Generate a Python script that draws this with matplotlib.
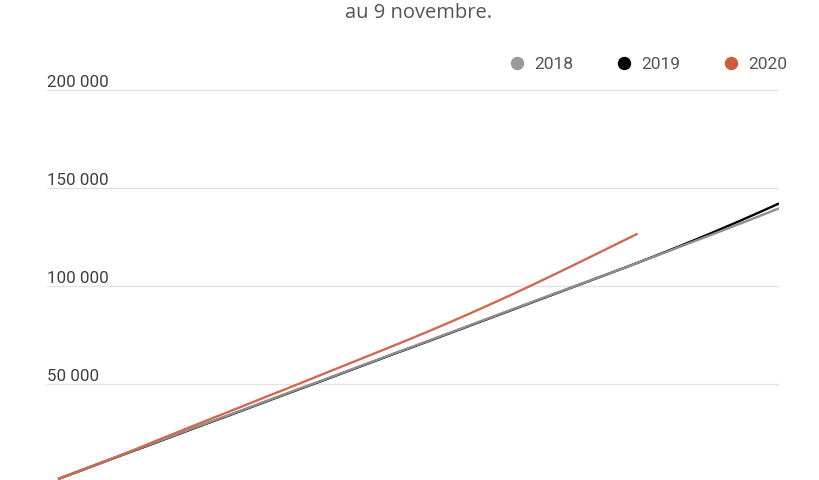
import matplotlib
matplotlib.use("Agg")
import matplotlib.pyplot as plt
from matplotlib.lines import Line2D
from matplotlib.transforms import blended_transform_factory

# ── data: cumulative totals per week ─────────────────────────────────────────

weeks = list(range(1, 53))

y2019 = [1500, 4200, 6900, 9600, 12300, 15000, 17600, 20300, 23000, 25700,
         28400, 31100, 33700, 36400, 39100, 41800, 44500, 47200, 49800, 52500,
         55200, 57900, 60600, 63300, 66000, 68600, 71300, 74000, 76700, 79400,
         82100, 84800, 87500, 90200, 92900, 95600, 98300, 101000, 103700, 106400,
         109100, 111850, 114650, 117500, 120400, 123350, 126350, 129400, 132500,
         135650, 138850, 142100]

y2018 = [1500, 4300, 7100, 9800, 12500, 15200, 17800, 20500, 23200, 25900,
         28600, 31300, 33900, 36600, 39300, 42000, 44700, 47400, 50000, 52700,
         55400, 58100, 60800, 63500, 66200, 68800, 71500, 74200, 76900, 79600,
         82300, 85000, 87700, 90400, 93100, 95800, 98400, 101100, 103800, 106400,
         109100, 111800, 114550, 117300, 120050, 122800, 125550, 128300, 131100,
         133900, 136750, 139600]

weeks_2020 = weeks[:42]
y2020 = [1500, 4200, 6900, 9600, 12400, 15300, 18200, 21200, 24100, 27000,
         29900, 32800, 35600, 38500, 41400, 44300, 47100, 50000, 52900, 55800,
         58700, 61600, 64500, 67400, 70300, 73250, 76250, 79300, 82400, 85550,
         88750, 92000, 95300, 98650, 102050, 105500, 109000, 112500, 116050,
         119600, 123150, 126700]

grid_values = [50000, 100000, 150000, 200000]
grid_labels = ["50 000", "100 000", "150 000", "200 000"]

series = [("2018", "#999999"), ("2019", "#000000"), ("2020", "#cf5b3e")]

plt.rcParams["font.family"] = ["Roboto", "DejaVu Sans"]

fig = plt.figure(figsize=(8.2, 4.8), dpi=100)
ax = fig.add_axes([47 / 820, 0, 732 / 820, 1])
ax.set_xlim(0.22, 52)
ax.set_ylim(1020, 245900)
ax.axis("off")

# gridlines + labels sitting on them
trans = blended_transform_factory(ax.transAxes, ax.transData)
for val, lab in zip(grid_values, grid_labels):
    ax.axhline(val, color="#e3e3e3", lw=1, zorder=0)
    ax.annotate(lab, (0, val), xycoords=trans, xytext=(0, 2.2),
                textcoords="offset points", ha="left", va="baseline",
                fontsize=12.2, color="#3f3f3f")

ax.plot(weeks, y2019, color="#000000", lw=1.7, solid_capstyle="butt", zorder=2)
ax.plot(weeks, y2018, color="#8f8f8f", lw=1.7, solid_capstyle="butt", zorder=3)
ax.plot(weeks_2020, y2020, color="#cf6a50", lw=1.7, solid_capstyle="butt", zorder=4)

fig.text(419 / 820, 1 - 18 / 480, "au 9 novembre.", ha="center", va="baseline",
         fontsize=14.5, color="#555555", family=["Open Sans", "DejaVu Sans"])

handles = [Line2D([], [], marker="o", linestyle="none", markersize=8.6,
                  markerfacecolor=c, markeredgecolor=c) for _, c in series]
leg = fig.legend(handles, [s for s, _ in series], ncol=3, frameon=False,
                 loc="center right", bbox_to_anchor=(787 / 820, 1 - 64 / 480),
                 fontsize=12.5, handlelength=0.8, handletextpad=0.6,
                 columnspacing=2.5, borderpad=0, borderaxespad=0)
for t in leg.get_texts():
    t.set_color("#555555")

fig.savefig("out.png", dpi=100)
